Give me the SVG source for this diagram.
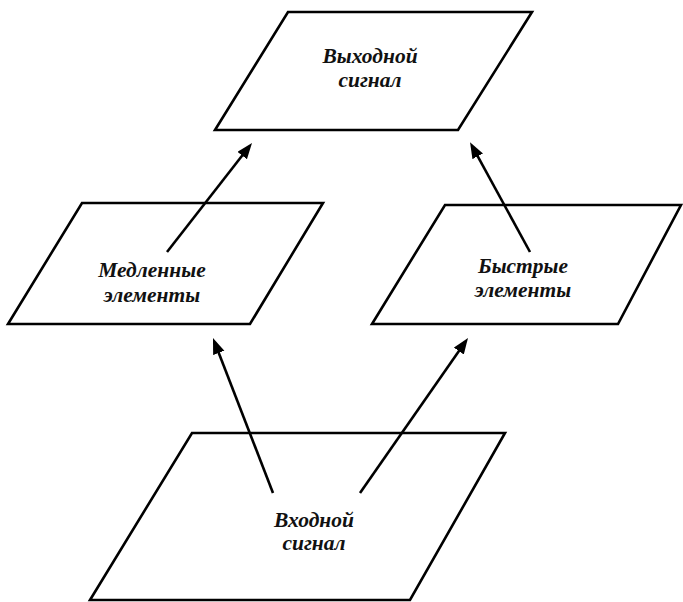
<svg xmlns="http://www.w3.org/2000/svg" width="683" height="602" viewBox="0 0 683 602">
<style>
.shape{fill:#fff;stroke:#000;stroke-width:2.6;stroke-linejoin:miter}
.lbl{font-family:"Liberation Serif","Times New Roman",serif;font-style:italic;font-weight:bold;font-size:21.5px;fill:#111;text-anchor:middle}
.conn{stroke:#000;stroke-width:2.6;fill:none;marker-end:url(#arr)}
</style>
<defs>
<marker id="arr" markerUnits="userSpaceOnUse" markerWidth="18" markerHeight="14" refX="9" refY="6" orient="auto">
<path d="M0,0 L16,6 L0,12 z" fill="#000"/>
</marker>
</defs>
<rect width="683" height="602" fill="#fff"/>
<g id="node-output">
<polygon class="shape" points="288,12 532,12 458,130 215,130"/>
<text class="lbl" x="370" y="63">Выходной</text>
<text class="lbl" x="370" y="87">сигнал</text>
</g>
<g id="node-slow">
<polygon class="shape" points="82,203 323,203 250,324 8,324"/>
<text class="lbl" x="152" y="277">Медленные</text>
<text class="lbl" x="152" y="302">элементы</text>
</g>
<g id="node-fast">
<polygon class="shape" points="445,205 681,205 618,324 372,324"/>
<text class="lbl" x="523" y="273">Быстрые</text>
<text class="lbl" x="523" y="297">элементы</text>
</g>
<g id="node-input">
<polygon class="shape" points="192,433 505,433 410,600 90,600"/>
<text class="lbl" x="314" y="527">Входной</text>
<text class="lbl" x="314" y="550">сигнал</text>
</g>
<g id="connectors">
<line class="conn" x1="167" y1="252" x2="247.7" y2="148.5"/>
<line class="conn" x1="530" y1="252" x2="473.4" y2="148.4"/>
<line class="conn" x1="273" y1="493" x2="215.5" y2="344.5"/>
<line class="conn" x1="360" y1="493" x2="464.0" y2="343.7"/>
</g>
</svg>
